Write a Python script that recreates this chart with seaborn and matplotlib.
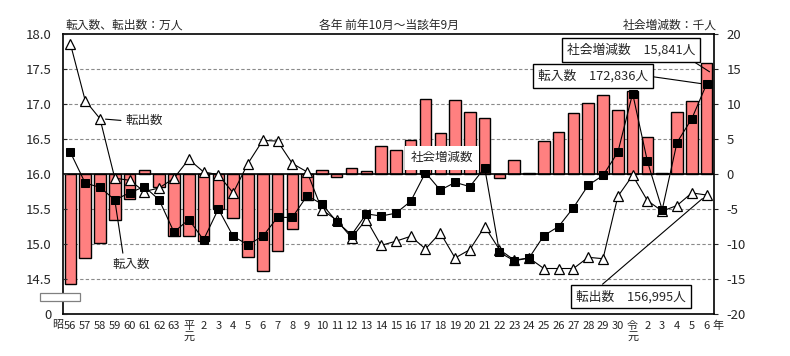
import matplotlib
matplotlib.use("Agg")
import matplotlib.pyplot as plt
import matplotlib.patches as mpatches
import seaborn as sns
import numpy as np
import pandas as pd

# ---- data ----
years = ["56", "57", "58", "59", "60", "61", "62", "63", "平\n元",
         "2", "3", "4", "5", "6", "7", "8", "9", "10", "11", "12", "13", "14", "15",
         "16", "17", "18", "19", "20", "21", "22", "23", "24", "25", "26", "27", "28",
         "29", "30", "令\n元", "2", "3", "4", "5", "6"]

# 社会増減数 (千人)
social = [-15.7, -12.0, -9.9, -6.6, -3.6, 0.6, -1.8, -8.9, -8.8,
          -9.5, -5.0, -6.3, -11.8, -13.8, -11.05, -7.9, -3.7, 0.6, -0.4, 0.9, 0.4, 4.0, 3.4,
          4.9, 10.7, 5.9, 10.6, 8.9, 8.0, -0.5, 2.0, 0.15, 4.7, 6.0, 8.7, 10.1,
          11.3, 9.1, 11.9, 5.3, 0.15, 8.9, 10.5, 15.841]

# 転入数 (万人)
tennyu = [16.31, 15.87, 15.81, 15.63, 15.73, 15.82, 15.63, 15.17, 15.35,
          15.06, 15.50, 15.11, 14.99, 15.11, 15.38, 15.38, 15.69, 15.57, 15.32, 15.13, 15.43, 15.40, 15.44,
          15.61, 16.02, 15.77, 15.88, 15.82, 16.09, 14.88, 14.76, 14.80, 15.12, 15.25, 15.52, 15.84,
          15.98, 16.31, 17.15, 16.18, 15.49, 16.45, 16.79, 17.2836]

# 転出数 (万人)
tenshutsu = [17.86, 17.05, 16.79, 15.94, 15.91, 15.75, 15.80, 15.94, 16.21,
             16.03, 15.99, 15.73, 16.15, 16.48, 16.47, 16.15, 16.03, 15.49, 15.34, 15.09, 15.35, 14.98, 15.04,
             15.11, 14.93, 15.16, 14.80, 14.92, 15.25, 14.92, 14.77, 14.80, 14.65, 14.65, 14.65, 14.81,
             14.79, 15.68, 15.98, 15.62, 15.47, 15.55, 15.73, 15.6995]

left_ticks = [14.0, 14.5, 15.0, 15.5, 16.0, 16.5, 17.0, 17.5, 18.0]
left_labels = ["0", "14.5", "15.0", "15.5", "16.0", "16.5", "17.0", "17.5", "18.0"]
right_ticks = [-20, -15, -10, -5, 0, 5, 10, 15, 20]

pos = np.arange(len(years))
df = pd.DataFrame({"pos": pos, "social": social, "tennyu": tennyu, "tenshutsu": tenshutsu})

# ---- style ----
sns.set_style("white")
plt.rcParams["font.family"] = ["Noto Sans CJK JP", "DejaVu Sans"]

W, H = 790, 356
fig = plt.figure(figsize=(W / 100, H / 100), dpi=100)
L, R, T, B = 63, 714, 34, 314
ax = fig.add_axes([L / W, 1 - B / H, (R - L) / W, (B - T) / H])

# grid
for g in [-15, -10, -5, 5, 10, 15]:
    ax.axhline(g, color="#8a8a8a", lw=0.8, ls=(0, (3, 2)), zorder=0)

sns.barplot(data=df, x="pos", y="social", native_scale=True, ax=ax,
            color="#FF8080", saturation=1, width=0.78,
            edgecolor="black", linewidth=1.0, zorder=2)
ax.axhline(0, color="black", lw=1.2, zorder=3)
ax.set_xlim(-0.5, len(years) - 0.5)
ax.set_ylim(-20, 20)
ax.set_xlabel("")
ax.set_ylabel("")
ax.set_xticks(pos)
ax.set_xticklabels(years, linespacing=1.1)
ax.tick_params(axis="x", length=0, pad=5, labelsize=8)
for s in ax.spines.values():
    s.set_color("black")
    s.set_linewidth(1.2)

ax2 = ax.twinx()
ax2.set_ylim(14, 18)

# right axis (social change) on ax
ax.yaxis.tick_right()
ax.set_yticks(right_ticks)
ax.set_yticklabels([str(t) for t in right_ticks])
ax.tick_params(axis="y", direction="out", length=3, width=0.8, pad=6, labelsize=9.5,
               right=True, left=False, labelright=True, labelleft=False)

# left axis (万人) on ax2
ax2.yaxis.tick_left()
ax2.set_yticks(left_ticks)
ax2.set_yticklabels(left_labels)
ax2.tick_params(axis="y", direction="in", length=3, width=0.8, pad=8, labelsize=9.5,
                left=True, right=False, labelleft=True, labelright=False)
for s in ax2.spines.values():
    s.set_visible(False)

sns.lineplot(data=df, x="pos", y="tenshutsu", ax=ax2, color="black", lw=0.8,
             marker="^", markersize=7, markerfacecolor="white", markeredgecolor="black",
             markeredgewidth=0.9, zorder=4)
sns.lineplot(data=df, x="pos", y="tennyu", ax=ax2, color="black", lw=0.8,
             marker="s", markersize=5.5, markerfacecolor="black", markeredgecolor="black", zorder=5)
ax2.set_xlabel("")
ax2.set_ylabel("")
ax2.set_xlim(-0.5, len(years) - 0.5)

# ---- texts ----
fig.text(65 / W, 1 - 25 / H, "転入数、転出数：万人", fontsize=8.5, va="center", ha="left")
fig.text(389 / W, 1 - 25 / H, "各年 前年10月～当該年9月", fontsize=8.5, va="center", ha="center")
fig.text(717 / W, 1 - 25 / H, "社会増減数：千人", fontsize=8.5, va="center", ha="right")
fig.text(63 / W, 1 - 325 / H, "昭", fontsize=8, va="center", ha="right")
fig.text(712 / W, 1 - 326 / H, "年", fontsize=8, va="center", ha="left")

boxkw = dict(boxstyle="square,pad=0.4", fc="white", ec="black", lw=1.0)
ax2.annotate("社会増減数　15,841人", xy=(43.2, 17.46), xytext=(37.9, 17.77),
             fontsize=9.2, ha="center", va="center", bbox=boxkw,
             arrowprops=dict(arrowstyle="-", color="black", lw=0.8, relpos=(0.93, 0.0),
                             shrinkA=0, shrinkB=0), zorder=10)
ax2.annotate("転入数　172,836人", xy=(43.0, 17.28), xytext=(35.3, 17.40),
             fontsize=9.2, ha="center", va="center", bbox=boxkw,
             arrowprops=dict(arrowstyle="-", color="black", lw=0.8, relpos=(1.0, 0.5),
                             shrinkA=0, shrinkB=4), zorder=10)
ax2.annotate("転出数　156,995人", xy=(43.0, 15.70), xytext=(37.9, 14.25),
             fontsize=9.2, ha="center", va="center", bbox=boxkw,
             arrowprops=dict(arrowstyle="-", color="black", lw=0.8, relpos=(0.18, 1.0),
                             shrinkA=0, shrinkB=4), zorder=10)
ax2.annotate("転出数", xy=(2.0, 16.79), xytext=(5.0, 16.76),
             fontsize=9, ha="center", va="center",
             arrowprops=dict(arrowstyle="-", color="black", lw=0.8, relpos=(0.0, 0.5),
                             shrinkA=1, shrinkB=4), zorder=10)
ax2.annotate("転入数", xy=(3.0, 15.63), xytext=(4.1, 14.71),
             fontsize=9, ha="center", va="center",
             arrowprops=dict(arrowstyle="-", color="black", lw=0.8, relpos=(0.3, 1.0),
                             shrinkA=1, shrinkB=4), zorder=10)
ax2.text(25.1, 16.23, "社会増減数", fontsize=9, ha="center", va="center",
         bbox=dict(boxstyle="square,pad=0.45", fc="white", ec="none"), zorder=10)

# axis break mark
rect = mpatches.Rectangle((40 / W, 1 - 301 / H), 40 / W, 8 / H, transform=fig.transFigure,
                          fc="white", ec="#808080", lw=0.9, clip_on=False, zorder=20)
fig.patches.append(rect)

fig.savefig("out.png", dpi=100)
